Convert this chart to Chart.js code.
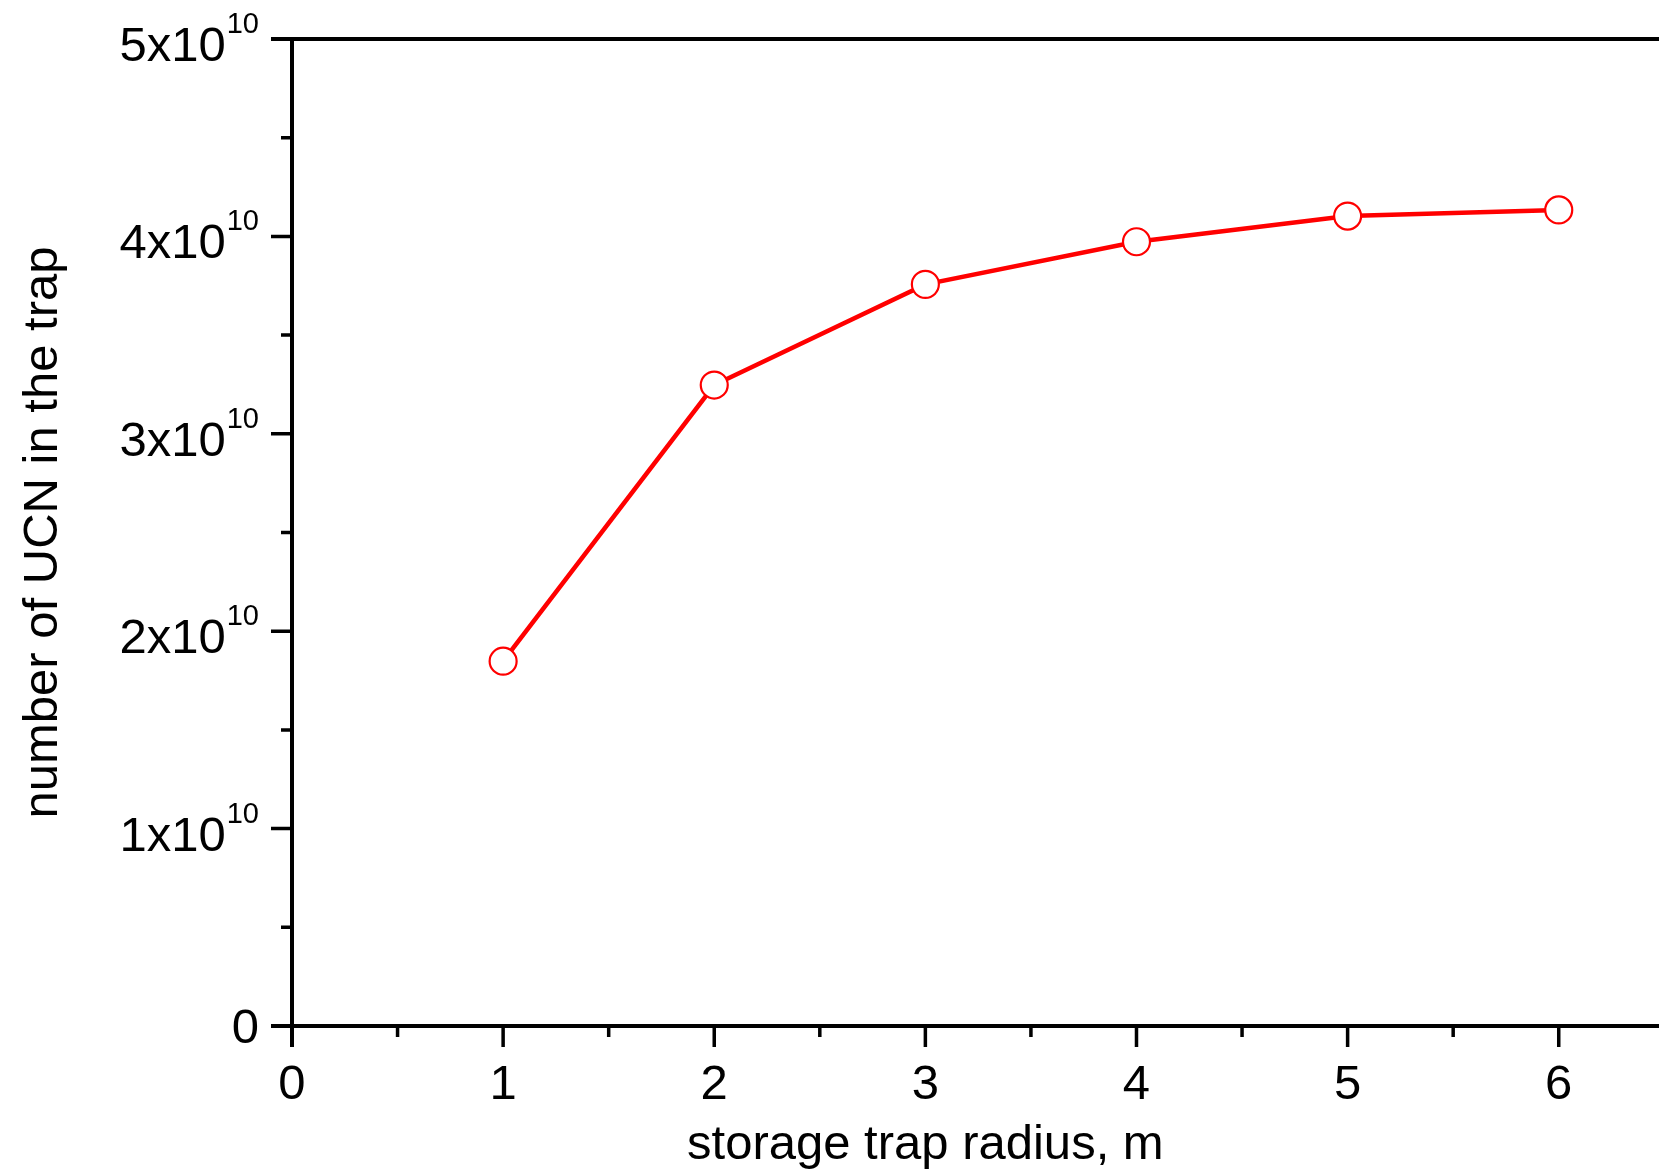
<!DOCTYPE html>
<html>
<head>
<meta charset="utf-8">
<script src="https://cdn.jsdelivr.net/npm/chart.js@4.4.1/dist/chart.umd.min.js"></script>
<style>
  html, body { margin: 0; padding: 0; background: #fff; overflow: hidden; }
  canvas { display: block; }
</style>
</head>
<body>
<canvas id="ucnChart" width="1680" height="1170"></canvas>
<script>
// storage trap radius (m) vs number of UCN in the trap
const radius = [1, 2, 3, 4, 5, 6];
const ucnCount = [1.848e10, 3.247e10, 3.757e10, 3.973e10, 4.103e10, 4.134e10];
const xTickValues = [0, 1, 2, 3, 4, 5, 6];
const yTickMantissa = [0, 1, 2, 3, 4, 5];   // times 10^10
const yExponent = '10';

const FONT = '"Liberation Sans", Arial, sans-serif';

const axesPlugin = {
    id: 'originAxes',
    afterDraw(chart) {
        const ctx = chart.ctx;
        const {left, top, bottom} = chart.chartArea;
        const xs = chart.scales.x;
        const ys = chart.scales.y;
        ctx.save();
        ctx.strokeStyle = '#000';
        ctx.fillStyle = '#000';
        ctx.lineWidth = 4;
        ctx.lineCap = 'butt';

        // axis lines (left, bottom, top)
        ctx.beginPath();
        ctx.moveTo(left, top - 2);
        ctx.lineTo(left, bottom + 21);
        ctx.moveTo(left - 21, bottom);
        ctx.lineTo(chart.width, bottom);
        ctx.moveTo(left - 21, top);
        ctx.lineTo(chart.width, top);
        ctx.stroke();

        // x ticks, major + minor
        ctx.lineWidth = 3.5;
        ctx.beginPath();
        for (let v = 0; v <= xs.max + 1e-9; v += 0.5) {
            const px = xs.getPixelForValue(v);
            const len = Number.isInteger(v) ? 21 : 11;
            ctx.moveTo(px, bottom);
            ctx.lineTo(px, bottom + len);
        }
        // y ticks
        for (let m = 0; m <= 5; m += 0.5) {
            const py = ys.getPixelForValue(m * 1e10);
            const len = Number.isInteger(m) ? 21 : 11;
            ctx.moveTo(left, py);
            ctx.lineTo(left - len, py);
        }
        ctx.stroke();

        // x tick labels
        ctx.font = '49px ' + FONT;
        ctx.textAlign = 'center';
        ctx.textBaseline = 'alphabetic';
        xTickValues.forEach(v => {
            ctx.fillText(String(v), xs.getPixelForValue(v), bottom + 73);
        });

        // y tick labels with superscript exponent
        const labelRight = left - 33;
        yTickMantissa.forEach(m => {
            const py = ys.getPixelForValue(m * 1e10);
            ctx.textAlign = 'right';
            if (m === 0) {
                ctx.font = '49px ' + FONT;
                ctx.fillText('0', labelRight, py + 17);
                return;
            }
            ctx.font = '29px ' + FONT;
            const supW = ctx.measureText(yExponent).width;
            ctx.fillText(yExponent, labelRight, py - 6);
            ctx.font = '49px ' + FONT;
            ctx.fillText(m + 'x10', labelRight - supW - 1, py + 22);
        });

        // axis titles
        ctx.font = '49px ' + FONT;
        ctx.textAlign = 'center';
        ctx.textBaseline = 'middle';
        ctx.fillText('storage trap radius, m', xs.getPixelForValue(3), 1145);

        ctx.translate(43, (top + bottom) / 2);
        ctx.rotate(-Math.PI / 2);
        ctx.fillText('number of UCN in the trap', 0, 0);
        ctx.restore();
    }
};

const points = radius.map((r, i) => ({x: r, y: ucnCount[i]}));

new Chart(document.getElementById('ucnChart').getContext('2d'), {
    type: 'line',
    data: {
        datasets: [{
            data: points,
            borderColor: '#ff0000',
            borderWidth: 4.5,
            pointRadius: 13.5,
            pointHoverRadius: 13.5,
            pointBorderWidth: 2.2,
            pointBorderColor: '#ff0000',
            pointBackgroundColor: '#ffffff',
            tension: 0
        }]
    },
    options: {
        responsive: false,
        animation: false,
        events: [],
        layout: { padding: { top: 39, right: 5, left: 0, bottom: 0 } },
        plugins: {
            legend: { display: false },
            tooltip: { enabled: false }
        },
        scales: {
            x: {
                type: 'linear',
                min: 0,
                max: 6.5,
                grid: { display: false },
                border: { display: false },
                ticks: { display: false },
                afterFit(scale) { scale.height = 144; }
            },
            y: {
                min: 0,
                max: 5e10,
                grid: { display: false },
                border: { display: false },
                ticks: { display: false },
                afterFit(scale) { scale.width = 292; }
            }
        }
    },
    plugins: [axesPlugin]
});
</script>
</body>
</html>
